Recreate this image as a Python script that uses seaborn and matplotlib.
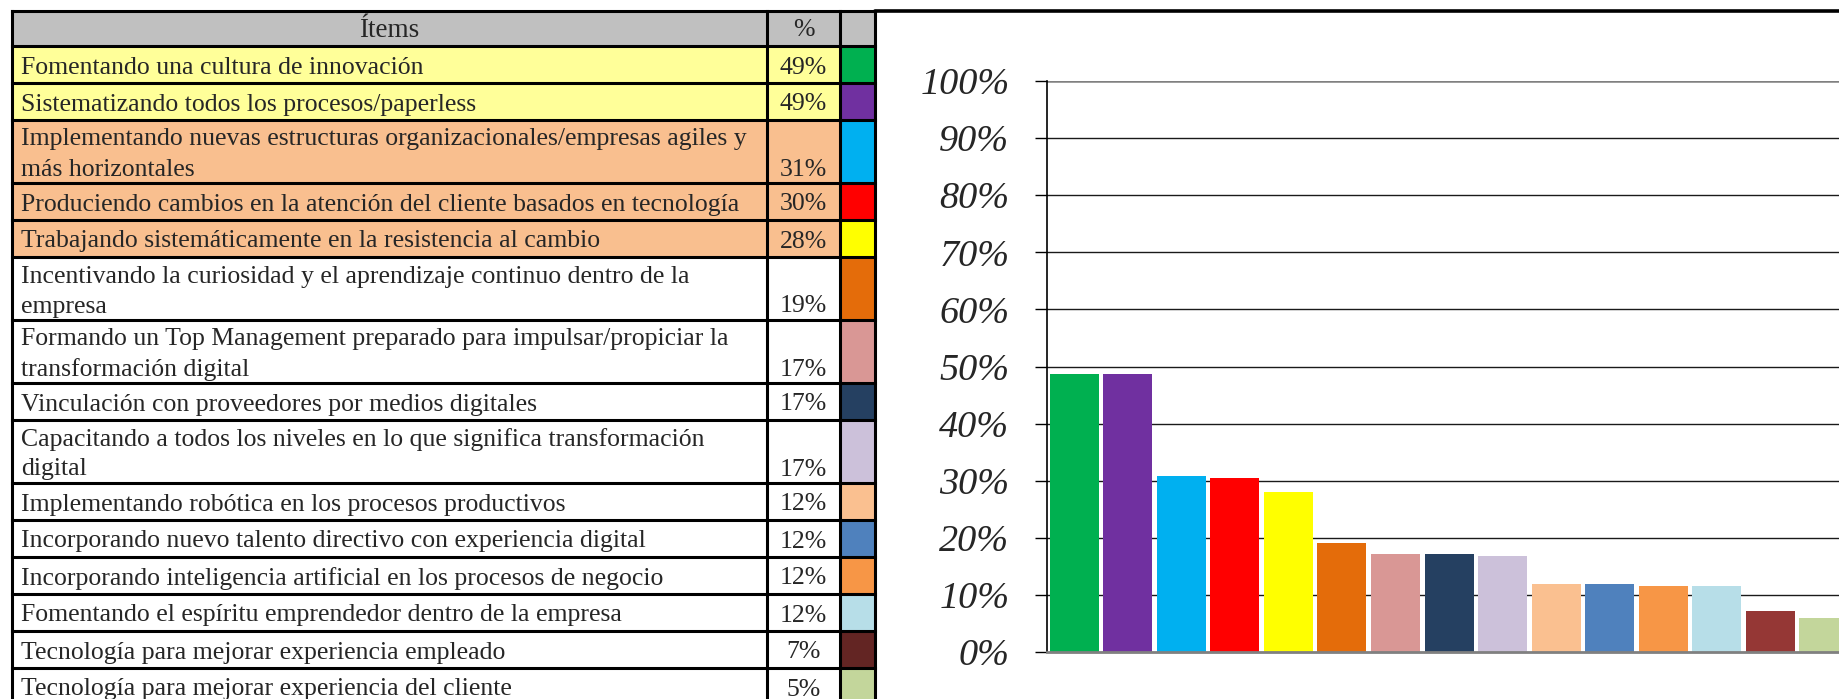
import matplotlib
matplotlib.use("Agg")
import matplotlib.pyplot as plt
from matplotlib.patches import Rectangle
from matplotlib.ticker import FuncFormatter
import pandas as pd
import seaborn as sns

items = [
    "Fomentando una cultura de innovación",
    "Sistematizando todos los procesos/paperless",
    "Implementando nuevas estructuras organizacionales/empresas agiles y\nmás horizontales",
    "Produciendo cambios en la atención del cliente basados en tecnología",
    "Trabajando sistemáticamente en la resistencia al cambio",
    "Incentivando la curiosidad y el aprendizaje continuo dentro de la\nempresa",
    "Formando un Top Management preparado para impulsar/propiciar la\ntransformación digital",
    "Vinculación con proveedores por medios digitales",
    "Capacitando a todos los niveles en lo que significa transformación\ndigital",
    "Implementando robótica en los procesos productivos",
    "Incorporando nuevo talento directivo con experiencia digital",
    "Incorporando inteligencia artificial en los procesos de negocio",
    "Fomentando el espíritu emprendedor dentro de la empresa",
    "Tecnología para mejorar experiencia empleado",
    "Tecnología para mejorar experiencia del cliente",
]
pct_labels = ["49%", "49%", "31%", "30%", "28%", "19%", "17%", "17%", "17%",
              "12%", "12%", "12%", "12%", "7%", "5%"]
bar_values = [48.6, 48.6, 30.9, 30.4, 28.0, 19.1, 17.2, 17.2, 16.8,
              11.9, 11.9, 11.6, 11.6, 7.1, 6.0]
swatch_colors = ["#00B050", "#7030A0", "#00B0F0", "#FF0000", "#FFFF00", "#E46C0A",
                 "#D99795", "#254061", "#CCC1DA", "#FAC090", "#4F81BD", "#F79646",
                 "#B7DEE8", "#632523", "#C3D69B"]
bar_colors = swatch_colors[:13] + ["#953735", "#C3D69B"]
row_fills = ["#FFFF99"] * 2 + ["#F9BF8F"] * 3 + ["white"] * 10
y_ticks = list(range(0, 101, 10))

sns.set_style("white")
plt.rcParams['font.family'] = ['Liberation Serif', 'DejaVu Serif']

W, H = 1839, 699
fig = plt.figure(figsize=(W / 100, H / 100), dpi=100)

# --- bar chart (pixel layout: axis x=1047, 0% y=652, 100% y=81) ---
ax = fig.add_axes([1047 / W, (H - 652) / H, (1850.5 - 1047) / W, (652 - 81) / H])
df = pd.DataFrame({"item": [str(i) for i in range(len(bar_values))], "value": bar_values})
sns.barplot(data=df, x="item", y="value", hue="item", palette=bar_colors, legend=False,
            width=0.915, saturation=1, linewidth=0, ax=ax)
ax.set_xlim(-0.51, len(bar_values) - 0.5)
ax.set_ylim(0, 100)
ax.set_xticks([])
ax.set_yticks(y_ticks)
ax.yaxis.set_major_formatter(FuncFormatter(lambda v, p: f"{int(v)}%"))
ax.set_xlabel("")
ax.set_ylabel("")
for v in y_ticks[1:]:
    ax.axhline(v, color="#808080" if v == 100 else "#1a1a1a",
               lw=1.8 if v == 100 else 1.0, zorder=0.5)
ax.tick_params(axis="y", direction="out", length=9, width=1, color="black",
               pad=18, labelsize=27.5, left=True)
for lab in ax.get_yticklabels():
    lab.set_fontstyle("italic")
for s in ["top", "right"]:
    ax.spines[s].set_visible(False)
ax.spines["left"].set_color("black")
ax.spines["left"].set_linewidth(1.2)
ax.spines["bottom"].set_color("#808080")
ax.spines["bottom"].set_linewidth(2)

# --- table on a pixel overlay ---
tab = fig.add_axes([0, 0, 1, 1])
tab.set_xlim(0, W)
tab.set_ylim(H, 0)
tab.axis("off")

x0, x1, x2, x3 = 12, 767, 840, 875
top, head_bot = 11, 46
single_h, double_h = 37, 63
lw = 2.2
fs = 18.5

tab.add_patch(Rectangle((x0, top), x3 - x0, head_bot - top, color="#C0C0C0", lw=0))
tab.text((x0 + x1) / 2, (top + head_bot) / 2 + 2, "Ítems", ha="center", va="center", fontsize=fs + 1)
tab.text((x1 + x2) / 2, (top + head_bot) / 2 + 2, "%", ha="center", va="center", fontsize=fs)

y = head_bot
row_edges = [top, head_bot]
for label, pct, fill, sw in zip(items, pct_labels, row_fills, swatch_colors):
    lines = label.split("\n")
    h = single_h if len(lines) == 1 else double_h
    tab.add_patch(Rectangle((x0, y), x2 - x0, h, color=fill, lw=0))
    tab.add_patch(Rectangle((x2, y), x3 - x2, h, color=sw, lw=0))
    mid = y + h / 2 + 3
    if len(lines) == 1:
        tab.text(x0 + 9, mid, lines[0], ha="left", va="center", fontsize=fs)
        tab.text((x1 + x2) / 2, mid, pct, ha="center", va="center", fontsize=fs)
    else:
        tab.text(x0 + 9, mid - 15, lines[0], ha="left", va="center", fontsize=fs)
        tab.text(x0 + 9, mid + 15, lines[1], ha="left", va="center", fontsize=fs)
        tab.text((x1 + x2) / 2, mid + 15, pct, ha="center", va="center", fontsize=fs)
    y += h
    row_edges.append(y)

for e in row_edges:
    tab.plot([x0, x3], [e, e], color="black", lw=lw, solid_capstyle="projecting")
for xv in [x0, x1, x2, x3]:
    tab.plot([xv, xv], [top, min(y, H + 5)], color="black", lw=lw, solid_capstyle="projecting")
# chart frame top edge
tab.plot([x3, W], [top, top], color="black", lw=lw + 0.4)

fig.savefig("out.png", dpi=100)
